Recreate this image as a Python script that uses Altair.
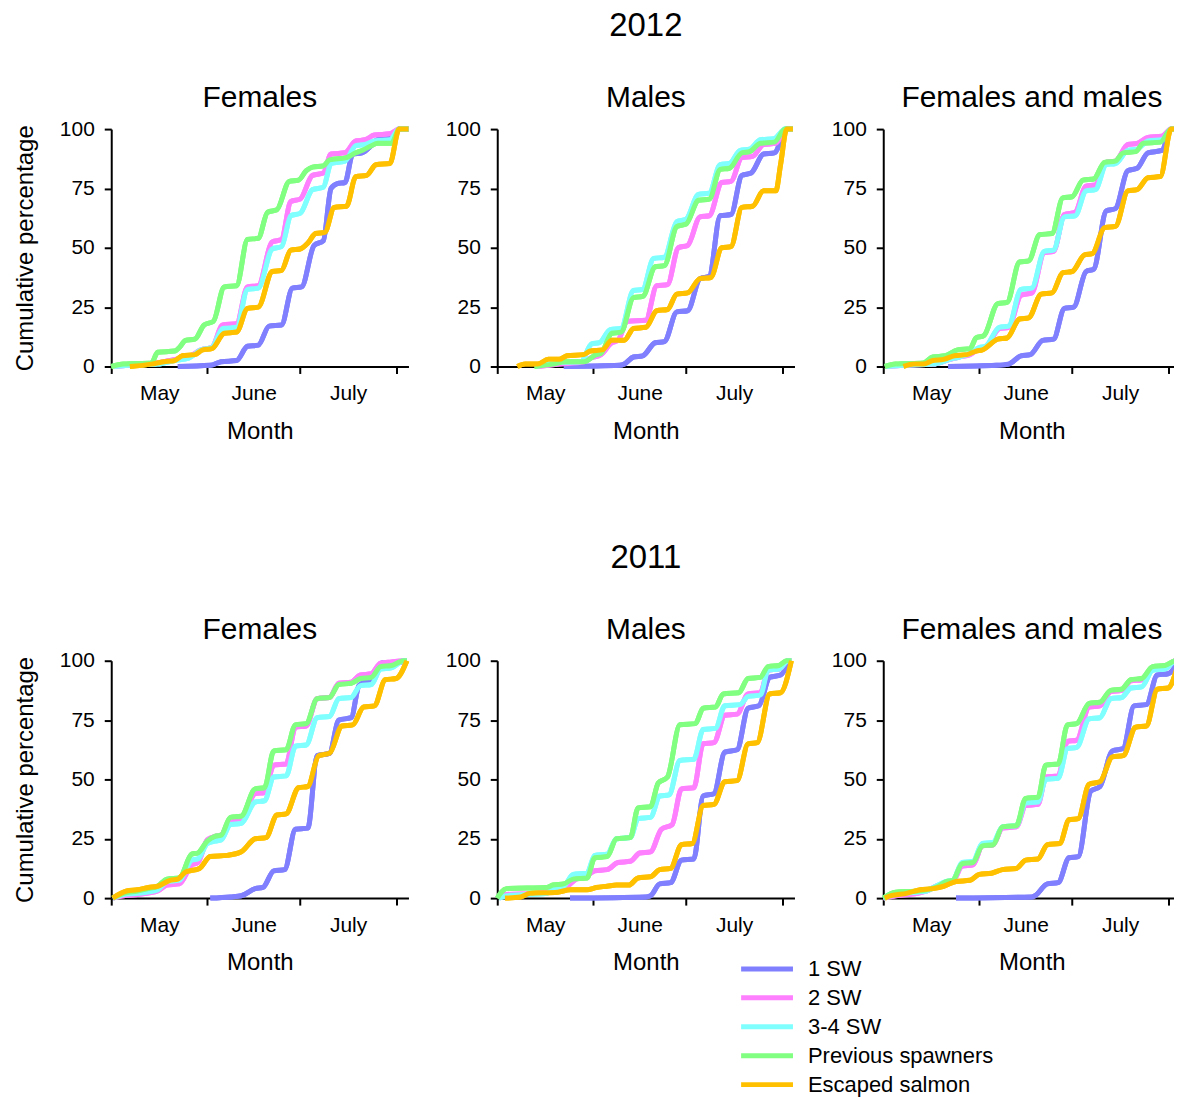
import altair as alt
import pandas as pd

GROUPS = ["1 SW", "2 SW", "3-4 SW", "Previous spawners", "Escaped salmon"]
COLORS = ["#8080ff", "#ff80ff", "#80ffff", "#80ff80", "#ffc000"]
YEARS = ["2012", "2011"]
SEXES = ["Females", "Males", "Females and males"]
MONTH_TICKS = [0, 31, 61, 92]          # days since 1 May: month boundaries
MONTH_MIDS = [15.5, 46, 76.5]          # middle of each month, where its name sits
MONTH_NAMES = ["May", "June", "July"]
Y_TICKS = [0, 25, 50, 75, 100]
FONT = "Liberation Sans"

# ---- 2012, Females: (day since 1 May, cumulative %) ----
f12_sw1 = [(21.5,0),(32,0.5),(35.5,2),(40.5,2.5),(44,8.5),(47.5,9),(51,17),(55,17.5),(58.5,33),(61.5,33.5),(65.5,51),(68.5,53),(71,75),(73,77),(75.5,77.5),(78,89.5),(81,90),(84,93),(86,95.5),(90,96),(93,100),(96,100)]
f12_sw2 = [(1,0),(5.5,0.5),(15,1.5),(20.5,3),(25,4),(29,7),(32.5,8),(36,17.5),(40.5,18),(44,33.5),(47.5,34),(52,52.5),(55,53.5),(58,69.5),(61,70.5),(65,80.5),(68.5,81.5),(71,89.5),(75.5,90),(79,95),(82,95.5),(85,97.5),(90,98),(93,100),(96,100)]
f12_sw34 = [(1,0),(5.5,0.5),(15,1),(20.5,2.5),(25,3.5),(29,7),(32.5,8),(36,16),(40.5,16.5),(44,32.5),(47.5,33),(52,49.5),(55,50.5),(58,63.5),(61,64.5),(65,74.5),(68.5,75.5),(71,85.5),(75.5,86.5),(79,93),(82,93.5),(85,95),(90,95.5),(93,100),(96,100)]
f12_prev = [(0,0),(4,1),(13,1.5),(15,6),(20.5,6.5),(22,8),(24,11),(27,11.5),(30,17.5),(33,19),(36.5,33.5),(40.5,34),(44,53.5),(47.5,54),(50.5,65),(53.5,66),(57.5,78),(60.5,78.5),(63,82.5),(65,84),(68.5,84.5),(70.5,87),(76,88),(79,90),(81,91),(84,93),(86,94),(90.5,94),(93,100),(96,100)]
f12_esc = [(6,0),(13,1),(17,2),(20.5,2.5),(23,4.5),(27,5),(29.5,7),(32.5,7.5),(36.5,14),(40.5,14.5),(44,24.5),(47.5,25),(52,40),(55,40.5),(58,49),(61,49.5),(63.5,52),(66,56),(69,56.5),(72,67),(76,67.5),(79,80),(82.5,80.5),(85.5,85),(90,85.5),(93,100),(96,100)]

# ---- 2012, Males ----
m12_sw1 = [(21.5,0),(39.5,0.5),(41,1),(44,4),(47,4.5),(51,10),(54,10.5),(58,23),(61.5,23.5),(65.5,37),(68.5,38),(72,63.5),(75.5,64),(79,80.5),(82,81.5),(86,89.5),(89.5,90),(93.5,100),(95.5,100)]
m12_sw2 = [(13,0),(20,1),(28,2),(30,3.5),(33.5,5),(37,10),(39,11),(42,19),(48,19.5),(51.5,34),(55,34.5),(58.5,50),(61.5,51),(65.5,63),(68.5,63.5),(72.5,77.5),(75.5,78),(79,88),(82.5,88.5),(86,93.5),(90,94),(93.5,100),(95.5,100)]
m12_sw34 = [(12.5,0),(18,1.5),(27,2),(30.5,9.5),(33,10),(36.5,15.5),(40,16),(44,32),(47,32.5),(50.5,45.5),(54,46),(58,61),(61,62),(65,72.5),(68.5,73),(72,85),(75,85.5),(78.5,91),(81.5,91.5),(85,95.5),(89.5,96),(93,100),(95.5,100)]
m12_prev = [(12,0),(18,1),(22,2),(28,2),(32,5),(33.5,5.5),(37,14),(40,14.5),(44,29),(47,29.5),(51,42),(54,42.5),(58,59),(61,60),(65,70),(68.5,70.5),(72,83),(75,83.5),(79,90),(81.5,90.5),(85,94),(89.5,94.5),(93,100),(95.5,100)]
m12_esc = [(6.5,0),(9,1),(13,1),(16.5,3),(20,3),(22.5,4.5),(28,5),(30,6.5),(34,7),(37,11),(41,11),(44,16),(48,16.5),(51.5,23.5),(55,24),(58,30.5),(61.5,31),(65.5,37),(69,37.5),(72.5,50),(75.5,50.5),(79,67),(82.5,67.5),(86,74),(90,74),(91.5,85),(93.5,100),(95.5,100)]

# ---- 2012, Females and males ----
b12_sw1 = [(21,0),(36.5,0.5),(40.5,1),(44.5,4.5),(47.5,5),(51.5,11),(55,11.5),(58.5,24.5),(61.5,25),(65.5,40),(68,41),(72,65.5),(75,66.5),(79,82.5),(82,83.5),(85.5,90),(90,91),(93,100),(96,100)]
b12_sw2 = [(1,0),(6.5,0.5),(16,1),(21.5,3),(24.5,4),(28,5),(31,7.5),(33,8),(37.5,16),(40.5,16.5),(44.5,30),(48,31),(52,48),(55,48.5),(58.5,64),(62,65),(65.5,76),(68.5,76.5),(72,86),(75,86.5),(79,93.5),(82,94),(85.5,96.5),(90,97),(93,100),(96,100)]
b12_sw34 = [(1,0),(6.5,0.5),(16,1),(21.5,3),(24.5,4),(28,5.5),(31,8),(33,8.5),(37.5,16.5),(40.5,17),(44.5,32.5),(48,33),(52,48.5),(55,49),(58.5,63),(62,63.5),(65.5,74),(68.5,74.5),(72,85),(75,85.5),(79,91),(82,91.5),(85.5,95),(90,95.5),(93,100),(96,100)]
b12_prev = [(0.5,0),(4,1),(13,1.5),(16,4),(20,4.5),(24,7),(28,7.5),(30,12),(32.5,13),(37,26.5),(40,27),(44,44),(47,44.5),(50.5,55.5),(54.5,56),(58,71),(61,71.5),(64.5,78.5),(68,79),(71.5,86),(75,86.5),(77.5,90),(81.5,90.5),(84,94),(89.5,94.5),(93,100),(96,100)]
b12_esc = [(6.5,0),(10,1),(13,1),(16,2.5),(19.5,3),(23,4.5),(27,5),(30,6.5),(32,7),(37,11.5),(40,12),(44,20),(47,20.5),(51,30.5),(54.5,31),(58,39.5),(61,40),(65,47),(67.5,47.5),(71.5,58.5),(75,59),(79,74),(82,74.5),(85.5,79.5),(89.5,80),(93,100),(96,100)]

# ---- 2011, Females ----
f11_sw1 = [(32,0),(38.5,0.5),(42,1),(46.5,4),(49,4.5),(52.5,11.5),(56,12),(59.5,29),(63.5,29.5),(66.5,60),(70.5,61),(73.5,75),(77.5,76),(80,89.5),(82,91),(84,92),(87.5,99),(91.5,99),(95.5,100)]
f11_sw2 = [(0.5,0),(4,1),(8.5,1.5),(15,3),(18,5.5),(22,6),(26,14),(28,15),(31,24.5),(33.5,26),(35.5,26.5),(38.5,33),(42,33.5),(46.5,44),(49.5,44.5),(52.5,56),(56.5,56.5),(59.5,72),(63,72.5),(66.5,84),(70.5,84.5),(73.5,90.5),(77.5,91),(80.5,94),(84,94.5),(87,99),(90.5,99.5),(94.5,100),(95.5,100)]
f11_sw34 = [(0.5,0),(4,1.5),(8.5,2),(15,3.5),(18,7),(22,7.5),(26,16),(28,16.5),(31,23),(33.5,24),(35.5,24.5),(38.5,31),(42,31.5),(46.5,40.5),(49.5,41),(52.5,51),(56.5,51.5),(59.5,64),(63,64.5),(66.5,76),(70.5,76.5),(73.5,84),(77.5,84.5),(80.5,89.5),(84,90),(87,96.5),(90.5,97),(94.5,100),(95.5,100)]
f11_prev = [(0.5,0),(4,2),(8.5,3),(12,4),(15,5),(18,8),(22,8.5),(26,18.5),(28,19),(31,24),(33.5,26),(35.5,26.5),(38.5,34),(42,34.5),(46.5,46),(49.5,46.5),(52.5,62),(56.5,62.5),(59.5,73),(63,73.5),(66.5,84),(70.5,84.5),(73.5,90),(77.5,90.5),(80.5,92.5),(84,93),(87,97.5),(90.5,98),(94.5,100),(95.5,100)]
f11_esc = [(0.5,0),(5,3),(8.5,3.5),(12,4.5),(15,5),(19,7.5),(21.5,8),(24,11),(28.5,12.5),(32,17.5),(37.5,18),(42,19.5),(46.5,25),(50,25.5),(53.5,35),(56.5,35.5),(60.5,46.5),(63.5,47),(67,60),(70.5,61),(74.5,72.5),(78,73),(81.5,80.5),(85,81),(88.5,92),(92,92.5),(95.5,100)]

# ---- 2011, Males ----
m11_sw1 = [(23.5,0),(48,0.5),(49.5,1),(52.5,6),(56,6.5),(59.5,16),(63.5,16.5),(66.5,43),(70,44),(73.5,61.5),(77.5,62.5),(81,80),(84.5,81),(88,93),(91.5,94),(94.5,100)]
m11_sw2 = [(0.5,0),(3,1.5),(13,2),(16,3),(21.5,4),(25.5,8),(29,9.5),(31.5,11.5),(35.5,12),(39,15),(43,15.5),(46,19),(49.5,19.5),(53,29),(56.5,31),(59.5,46),(63.5,46.5),(66.5,65),(70,65.5),(73.5,77),(77.5,77.5),(81,86),(85,86.5),(87.5,96),(91,96.5),(94,100),(95,100)]
m11_sw34 = [(0.5,0),(3,1),(16,2),(18,4),(21.5,5),(24.5,10),(29,10.5),(31.5,18),(35.5,18.5),(38.5,25),(43,25.5),(45.5,33.5),(49.5,34),(52.5,43),(55.5,43.5),(59,58),(63.5,58.5),(66.5,71),(70.5,71.5),(73.5,81),(78.5,81.5),(81,85),(85,85.5),(87.5,96),(91,96.5),(94,100),(95,100)]
m11_prev = [(0,0),(3,4),(16,4.5),(18,5.5),(21.5,6),(24.5,8),(29,8.5),(31.5,17),(35.5,17.5),(38.5,25),(43,25.5),(45.5,38),(49.5,38.5),(52,48.5),(55,51),(59,73),(64,73.5),(66.5,80),(70.5,80.5),(73,86),(78,86.5),(81,92.5),(85,93),(87.5,97.5),(91,98),(93.5,100),(95,100)]
m11_esc = [(2.5,0),(7.5,0.5),(10.5,2),(19.5,2.5),(23.5,3.5),(29,3.5),(32,4.5),(35.5,5),(38.5,5.5),(42.5,5.5),(45.5,8.5),(49.5,9),(52.5,12),(56,12.5),(59.5,22.5),(63,23),(66.5,39),(70,39.5),(73.5,49),(77.5,49.5),(81,65),(84,65.5),(88,86),(91.5,86.5),(95,100)]

# ---- 2011, Females and males ----
b11_sw1 = [(23.5,0),(48,0.5),(49,1),(53,6),(56.5,6.5),(60,17),(63,17.5),(67,45),(70,47),(74,62),(77.5,63),(81,81),(85,81.5),(88.5,94),(92,94.5),(95.5,100)]
b11_sw2 = [(0,0),(4,1),(11,2),(14,3),(17,5),(20.5,6.5),(22.5,7),(25.5,13.5),(29,14),(32,22),(35.5,22.5),(38.5,29.5),(43,30),(46,39),(50,39.5),(52.5,51),(56.5,51.5),(59.5,66),(62.5,66.5),(66.5,80.5),(70,81),(73.5,87),(77,87.5),(80,91.5),(83.5,92),(87,97),(91,97.5),(94.5,100),(96,100)]
b11_sw34 = [(0,0),(4,1.5),(11,2.5),(14,3),(17,5),(20.5,7),(22.5,7.5),(25.5,15),(29,15.5),(32,23),(35.5,23.5),(38.5,30),(43,30.5),(46,40),(50,40.5),(52.5,50),(56.5,50.5),(59.5,63),(62.5,63.5),(66.5,75.5),(70,76),(73.5,84),(77,84.5),(80,88.5),(83.5,89),(87,96),(91,96.5),(94.5,100),(96,100)]
b11_prev = [(0,0),(4,2.5),(11.5,3),(14,3.5),(17,4.5),(20.5,7),(22.5,7.5),(25.5,14.5),(29,15),(32,22),(35.5,22.5),(38.5,30),(43,30.5),(46,42),(50,42.5),(52.5,56),(56.5,56.5),(59.5,73),(62.5,73.5),(66.5,82),(70,82.5),(73.5,87.5),(77,88),(80,92),(83.5,92.5),(87,97.5),(91,98),(94.5,100),(96,100)]
b11_esc = [(0.5,0),(2.5,1),(7.5,2),(12,3.5),(16,4),(19.5,5),(23.5,7),(28,7.5),(31,10),(35,10.5),(38.5,12),(43,12.5),(46,16),(50,16.5),(53,22.5),(57,23),(60,33),(63,33.5),(66.5,48),(70,49),(74,59.5),(77.5,60),(81.5,72),(85,72.5),(88.5,88),(92,88.5),(95.5,100)]

PANELS = {
    ("2012", "Females"): [f12_sw1, f12_sw2, f12_sw34, f12_prev, f12_esc],
    ("2012", "Males"): [m12_sw1, m12_sw2, m12_sw34, m12_prev, m12_esc],
    ("2012", "Females and males"): [b12_sw1, b12_sw2, b12_sw34, b12_prev, b12_esc],
    ("2011", "Females"): [f11_sw1, f11_sw2, f11_sw34, f11_prev, f11_esc],
    ("2011", "Males"): [m11_sw1, m11_sw2, m11_sw34, m11_prev, m11_esc],
    ("2011", "Females and males"): [b11_sw1, b11_sw2, b11_sw34, b11_prev, b11_esc],
}


def panel_frame(series):
    rows = []
    for gi, (g, pts) in enumerate(zip(GROUPS, series)):
        for i, (d, p) in enumerate(pts):
            rows.append({"group": g, "gi": gi, "day": d, "pct": p, "idx": i})
    return pd.DataFrame(rows)


label_expr = " : ".join(
    f"datum.value == {t} ? '{n}'" for t, n in zip(MONTH_MIDS, MONTH_NAMES)
) + " : ''"

legend = alt.Legend(
    orient="none", legendX=620.5, legendY=831, title=None,
    symbolType="M0,0H8", symbolSize=169, symbolStrokeWidth=5,
    labelFont=FONT, labelFontSize=22, labelColor="black", labelLimit=400,
    labelOffset=56, rowPadding=7,
)

X_SCALE = alt.Scale(domain=[0, 96], nice=False, zero=False)
Y_SCALE = alt.Scale(domain=[0, 100], nice=False)


def panel(year, sex, first_col):
    df = panel_frame(PANELS[(year, sex)])
    y = alt.Y("pct:Q", scale=Y_SCALE,
              axis=alt.Axis(values=Y_TICKS, labelPadding=10,
                            title="Cumulative percentage" if first_col else "",
                            titlePadding=22))
    color = alt.Color("group:N", scale=alt.Scale(domain=GROUPS, range=COLORS),
                      sort=GROUPS, legend=legend)
    # month-boundary ticks, no labels
    ticks_layer = alt.Chart(df).mark_line(strokeWidth=5, interpolate="monotone").encode(
        x=alt.X("day:Q", scale=X_SCALE,
                axis=alt.Axis(values=MONTH_TICKS, labels=False, title=None, orient="bottom")),
        y=y, color=color, detail="gi:N", order="idx:Q",
    )
    # month names centred between the ticks
    names_layer = alt.Chart(df).mark_line(strokeWidth=5, interpolate="monotone").encode(
        x=alt.X("day:Q", scale=X_SCALE,
                axis=alt.Axis(values=MONTH_MIDS, labelExpr=label_expr, ticks=False,
                              tickSize=0, domain=False, labelFlush=False,
                              labelOverlap=False, labelPadding=16, title="Month",
                              titlePadding=16, orient="bottom")),
        y=y, color=color, detail="gi:N", order="idx:Q",
    )
    return alt.layer(ticks_layer, names_layer).resolve_axis(x="independent").properties(
        width=298, height=238,
        title=alt.TitleParams(sex, font=FONT, fontSize=30, fontWeight="normal",
                              color="black", offset=5),
    )


rows = []
for year in YEARS:
    rows.append(alt.hconcat(
        *[panel(year, s, i == 0) for i, s in enumerate(SEXES)],
        spacing=89, bounds="flush",
        title=alt.TitleParams(year, font=FONT, fontSize=33, fontWeight="normal",
                              color="black", anchor="middle", offset=40, dx=44),
    ))

chart = alt.vconcat(*rows, spacing=99).properties(
    padding={"left": 4.5, "top": 1, "right": -16.5, "bottom": 0}
).configure_view(stroke=None).configure_axis(
    domainColor="black", domainWidth=2, tickColor="black", tickWidth=2, tickSize=7,
    grid=False, labelFont=FONT, labelFontSize=21, labelColor="black",
    titleFont=FONT, titleFontSize=24, titleFontWeight="normal", titleColor="black",
)

chart.save("out.html", embed_options={"renderer": "svg", "actions": False})
